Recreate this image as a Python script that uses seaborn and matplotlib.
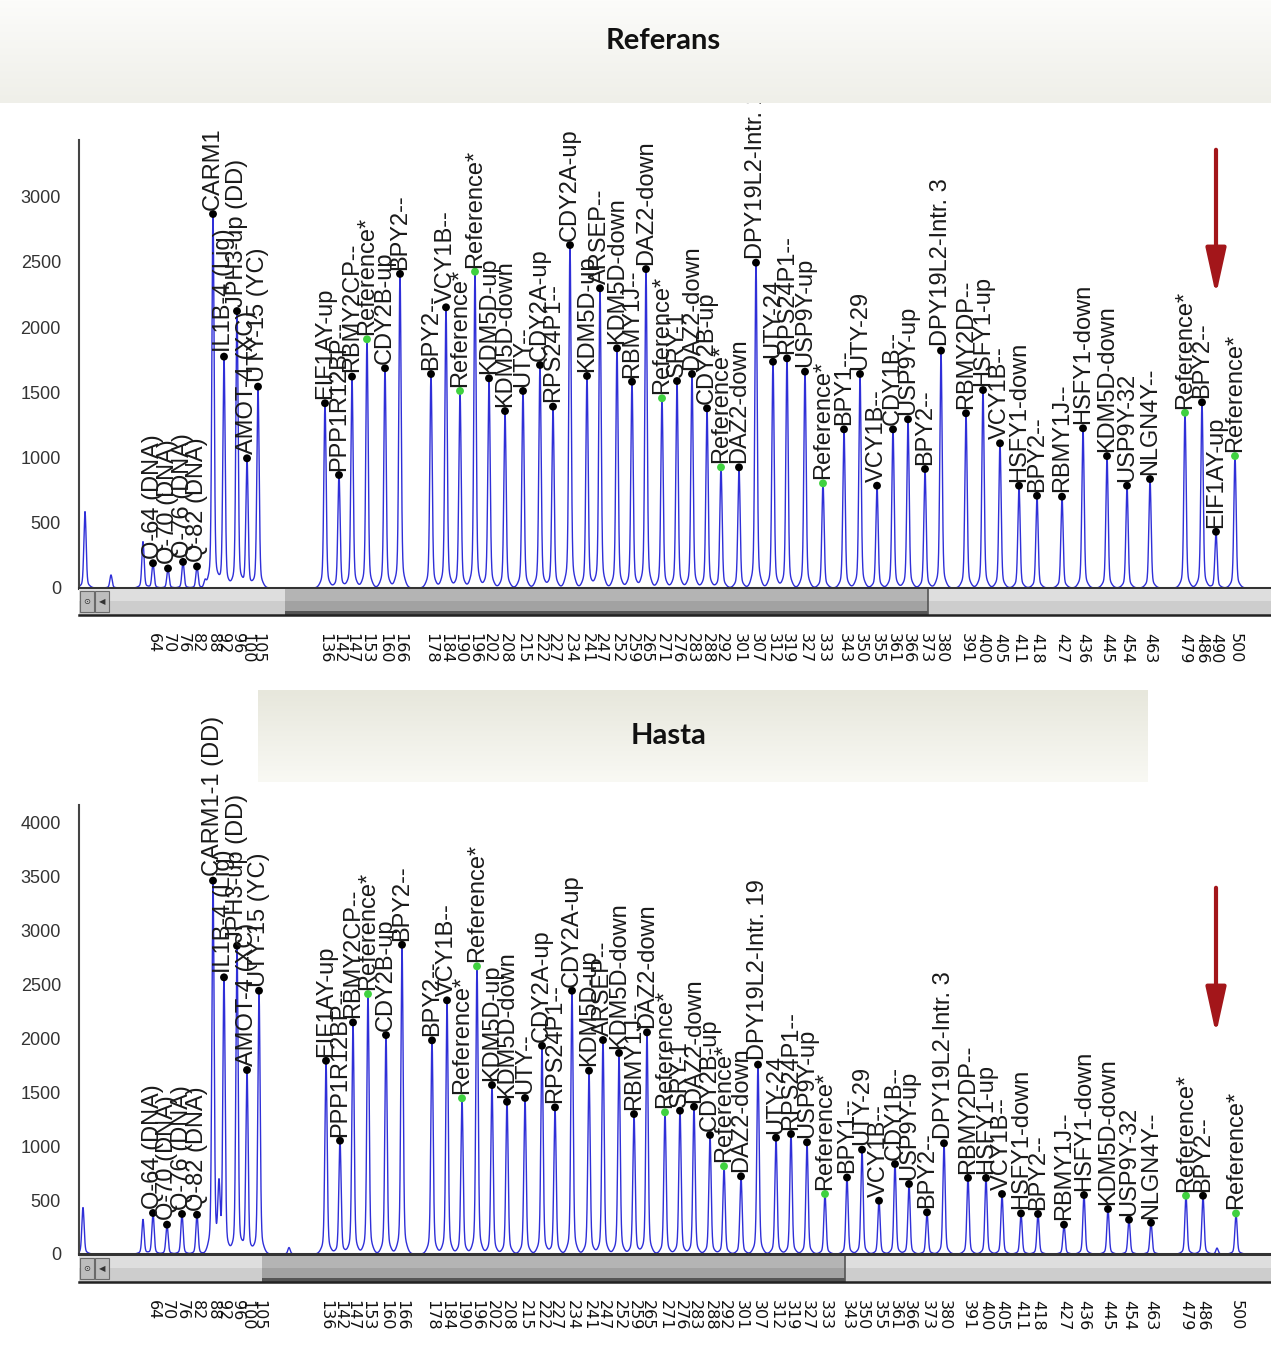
import numpy as np
import pandas as pd
import matplotlib
matplotlib.use("Agg")
import matplotlib.pyplot as plt
from matplotlib.patches import Rectangle, FancyArrowPatch
from matplotlib.colors import LinearSegmentedColormap
import seaborn as sns

W, H = 1271, 1349

# ---------------- data ----------------
# peak positions are in scan units (same scale for both panels)
labels_top = ["Q-64 (DNA)", "Q-70 (DNA)", "Q-76 (DNA)", "Q-82 (DNA)", "CARM1",
              "IL1B-4 (Lig)", "JPH3-up (DD)", "AMOT-4 (XC)", "UTY-15 (YC)",
              "EIF1AY-up", "PPP1R12BP--", "RBMY2CP--", "Reference*", "CDY2B-up", "BPY2--",
              "BPY2--", "VCY1B--", "Reference*", "Reference*", "KDM5D-up", "KDM5D-down",
              "UTY--", "CDY2A-up", "RPS24P1--", "CDY2A-up", "KDM5D-up", "ARSEP--",
              "KDM5D-down", "RBMY1J--", "DAZ2-down", "Reference*", "SRY-1", "DAZ2-down",
              "CDY2B-up", "Reference*", "DAZ2-down", "DPY19L2-Intr. 19", "UTY-24",
              "RPS24P1--", "USP9Y-up", "Reference*",
              "BPY1--", "UTY-29", "VCY1B--", "CDY1B--", "USP9Y-up", "BPY2--", "DPY19L2-Intr. 3",
              "RBMY2DP--", "HSFY1-up", "VCY1B--", "HSFY1-down", "BPY2--",
              "RBMY1J--", "HSFY1-down", "KDM5D-down", "USP9Y-32", "NLGN4Y--",
              "Reference*", "BPY2--", "EIF1AY-up", "Reference*"]
pos_top = [153, 168, 183, 197, 213, 224, 237, 247, 258,
           325, 339, 352, 367, 385, 400,
           431, 446, 460, 475, 489, 505, 523, 540, 553, 570,
           587, 600, 617, 632, 646, 662, 677, 692, 707, 721,
           739, 756, 773, 787, 805, 823,
           844, 860, 877, 893, 908, 925, 941,
           966, 983, 1000, 1019, 1037,
           1062, 1083, 1107, 1127, 1150,
           1185, 1202, 1216, 1235]
height_top = [190, 150, 200, 165, 2866, 1773, 2122, 994, 1543,
              1416, 866, 1620, 1906, 1684, 2407,
              1640, 2151, 1510, 2424, 1607, 1356, 1510, 1709, 1390, 2628,
              1625, 2297, 1837, 1581, 2444, 1454, 1586, 1640, 1377, 925,
              925, 2493, 1734, 1760, 1658, 802,
              1216, 1640, 784, 1216, 1293, 912, 1819,
              1339, 1517, 1109, 784, 707,
              700, 1224, 1011, 784, 835,
              1343, 1423, 431, 1011]
sizes_top = [64, 70, 76, 82, 88, 92, 96, 100, 105,
             136, 142, 147, 153, 160, 166,
             178, 184, 190, 196, 202, 208, 215, 222, 227, 234,
             241, 247, 252, 259, 265, 271, 276, 283, 288, 292,
             301, 307, 312, 319, 327, 333,
             343, 350, 355, 361, 366, 373, 380,
             391, 400, 405, 411, 418,
             427, 436, 445, 454, 463,
             479, 486, 490, 500]
minor_pos_top = [85, 111, 143, 205]
minor_h_top = [585, 100, 355, 50]

labels_bot = ["Q-64 (DNA)", "Q-70 (DNA)", "Q-76 (DNA)", "Q-82 (DNA)", "CARM1-1 (DD)",
              "IL1B-4 (Lig)", "JPH3-up (DD)", "AMOT-4 (XC)", "UTY-15 (YC)",
              "EIF1AY-up", "PPP1R12BP--", "RBMY2CP--", "Reference*", "CDY2B-up", "BPY2--",
              "BPY2--", "VCY1B--", "Reference*", "Reference*", "KDM5D-up", "KDM5D-down",
              "UTY--", "CDY2A-up", "RPS24P1--", "CDY2A-up", "KDM5D-up", "ARSEP--",
              "KDM5D-down", "RBMY1J--", "DAZ2-down", "Reference*", "SRY-1", "DAZ2-down",
              "CDY2B-up", "Reference*", "DAZ2-down", "DPY19L2-Intr. 19", "UTY-24",
              "RPS24P1--", "USP9Y-up", "Reference*",
              "BPY1--", "UTY-29", "VCY1B--", "CDY1B--", "USP9Y-up", "BPY2--", "DPY19L2-Intr. 3",
              "RBMY2DP--", "HSFY1-up", "VCY1B--", "HSFY1-down", "BPY2--",
              "RBMY1J--", "HSFY1-down", "KDM5D-down", "USP9Y-32", "NLGN4Y--",
              "Reference*", "BPY2--", "Reference*"]
pos_bot = [153, 167, 182, 197, 213, 224, 237, 247, 259,
           326, 340, 353, 368, 386, 402,
           432, 447, 462, 477, 492, 507, 525, 542, 555, 572,
           589, 603, 619, 634, 647, 665, 680, 694, 710, 724,
           741, 758, 776, 791, 807, 825,
           847, 862, 879, 895, 909, 927, 944,
           968, 986, 1002, 1021, 1038,
           1064, 1084, 1108, 1129, 1151,
           1186, 1203, 1236]
height_bot = [380, 272, 371, 364, 3460, 2564, 2857, 1705, 2440,
              1791, 1050, 2146, 2409, 2029, 2866,
              1980, 2351, 1443, 2666, 1566, 1411, 1446, 1930, 1359, 2440,
              1699, 1983, 1863, 1297, 2054, 1313, 1328, 1365, 1103, 813,
              720, 1755, 1078, 1112, 1035, 556,
              709, 967, 494, 834, 649, 386, 1026,
              705, 705, 556, 376, 371,
              272, 547, 417, 318, 290,
              540, 540, 376]
sizes_bot = [64, 70, 76, 82, 88, 92, 96, 100, 105,
             136, 142, 147, 153, 160, 166,
             178, 184, 190, 196, 202, 208, 215, 222, 227, 234,
             241, 247, 252, 259, 265, 271, 276, 283, 288, 292,
             301, 307, 312, 319, 327, 333,
             343, 350, 355, 361, 366, 373, 380,
             391, 400, 405, 411, 418,
             427, 436, 445, 454, 463,
             479, 486, 500]
minor_pos_bot = [83, 143, 219, 289, 1217]
minor_h_bot = [430, 320, 560, 60, 55]

BLUE = "#2f2fd8"
GREEN = "#3fd13f"
RED = "#a3161a"

sns.set_style("white")
plt.rcParams["font.family"] = ["Liberation Sans", "DejaVu Sans"]


def fig_box(x0, y0, x1, y1):
    # pixel box (top-left origin) -> figure fraction
    return [x0 / W, 1 - y1 / H, (x1 - x0) / W, (y1 - y0) / H]


def trace(pos, h, xs):
    y = np.zeros_like(xs)
    for p, v in zip(pos, h):
        d = xs - p
        y += v * (0.92 * np.exp(-0.5 * (d / 1.1) ** 2) + 0.08 * np.exp(-0.5 * (d / 3.5) ** 2))
    return y


def draw_panel(ax, sb, labels, pos, heights, sizes, mpos, mh, ymax, yticks, thumb):
    xs = np.arange(79, 1271, 0.2)
    ys = trace(pos + mpos, heights + mh, xs)
    sns.lineplot(x=xs, y=ys, ax=ax, color=BLUE, lw=1.0, estimator=None)

    df = pd.DataFrame({"pos": pos, "h": heights,
                       "ref": [l.startswith("Reference") for l in labels]})
    sns.scatterplot(data=df, x="pos", y="h", hue="ref",
                    palette={False: "black", True: GREEN}, s=32,
                    edgecolor="none", legend=False, ax=ax, zorder=3)
    for l, p, v in zip(labels, pos, heights):
        ax.annotate(l, (p, v), xytext=(0, 3), textcoords="offset points",
                    rotation=90, ha="center", va="bottom", fontsize=17,
                    color="#1a1a1a")

    ax.set_xlim(79, 1271)
    ax.set_ylim(0, ymax)
    ax.set_xticks([])
    ax.set_yticks(yticks)
    ax.set_xlabel("")
    ax.set_ylabel("")
    ax.tick_params(axis="y", direction="out", length=10, width=1.2,
                   labelsize=13, colors="#333333", pad=3)
    sns.despine(ax=ax, top=True, right=True)
    ax.spines["left"].set_color("#444444")
    ax.spines["left"].set_linewidth(1.5)
    ax.spines["bottom"].set_color("#333333")
    ax.spines["bottom"].set_linewidth(2.2)

    # scroll bar under the trace, carrying the size ticks
    sb.set_xlim(79, 1271)
    sb.set_ylim(0, 1)
    sb.add_patch(Rectangle((79, 0), 1192, 1, color="#cdcdcd", lw=0))
    sb.add_patch(Rectangle((79, 0.55), 1192, 0.45, color="#dedede", lw=0))
    sb.add_patch(Rectangle((thumb[0], 0), thumb[1] - thumb[0], 1, color="#a2a2a2", lw=0))
    sb.add_patch(Rectangle((thumb[0], 0.55), thumb[1] - thumb[0], 0.45, color="#b4b4b4", lw=0))
    sb.add_patch(Rectangle((thumb[0], 0), thumb[1] - thumb[0], 0.15, color="#555555", lw=0))
    sb.plot([thumb[1], thumb[1]], [0, 1], color="#555555", lw=1.2)
    for x0, sym in [(80, "\u2299"), (95, "\u25c0")]:
        sb.add_patch(Rectangle((x0, 0.12), 14, 0.8, facecolor="#bdbdbd",
                               edgecolor="#6a6a6a", lw=0.8))
        sb.text(x0 + 7, 0.52, sym, ha="center", va="center", fontsize=6,
                color="#333333", family=["DejaVu Sans"])
    sb.set_yticks([])
    sb.set_xticks(pos)
    sb.set_xticklabels([str(s) for s in sizes], family=["DejaVu Sans"])
    sb.tick_params(axis="x", direction="out", length=11, width=1.0, pad=2,
                   labelsize=11.5, labelrotation=270, colors="#111111")
    for side in ["top", "left", "right"]:
        sb.spines[side].set_visible(False)
    sb.spines["bottom"].set_color("#222222")
    sb.spines["bottom"].set_linewidth(1.8)


fig = plt.figure(figsize=(W / 100, H / 100), dpi=100)

ax_top = fig.add_axes(fig_box(79, 140, 1271, 588))
sb_top = fig.add_axes(fig_box(79, 589, 1271, 615))
draw_panel(ax_top, sb_top, labels_top, pos_top, height_top, sizes_top,
           minor_pos_top, minor_h_top, 3433, range(0, 3001, 500), (285, 928))

ax_bot = fig.add_axes(fig_box(79, 805, 1271, 1254))
sb_bot = fig.add_axes(fig_box(79, 1256, 1271, 1282))
draw_panel(ax_bot, sb_bot, labels_bot, pos_bot, height_bot, sizes_bot,
           minor_pos_bot, minor_h_bot, 4161, range(0, 4001, 500), (262, 845))

# title bands drawn over the traces
band_cmap = LinearSegmentedColormap.from_list("band", ["#fcfcfa", "#efefe9"])
top_band = fig.add_axes(fig_box(0, 0, 1271, 103), zorder=10)
top_band.imshow(np.linspace(0, 1, 100).reshape(-1, 1), aspect="auto", cmap=band_cmap,
                extent=[0, 1, 0, 1])
top_band.axis("off")
top_band.text(0.522, 0.6, "Referans", ha="center", va="center", fontsize=21,
              fontweight="bold", family=["Lato", "DejaVu Sans"], color="#111111")

hasta_cmap = LinearSegmentedColormap.from_list("band2", ["#e7e7dc", "#f9f9f4"])
mid_band = fig.add_axes(fig_box(258, 690, 1148, 782), zorder=10)
mid_band.imshow(np.linspace(0, 1, 100).reshape(-1, 1), aspect="auto", cmap=hasta_cmap,
                extent=[0, 1, 0, 1])
mid_band.axis("off")
mid_band.text(0.461, 0.5, "Hasta", ha="center", va="center", fontsize=21,
              fontweight="bold", family=["Lato", "DejaVu Sans"], color="#111111")

# red arrows marking the missing peak
for y0, y1 in [(147, 298), (885, 1037)]:
    arr = FancyArrowPatch((1216 / W, 1 - y0 / H), (1216 / W, 1 - y1 / H),
                          transform=fig.transFigure,
                          arrowstyle="-|>,head_length=1.0,head_width=0.22",
                          mutation_scale=28, lw=3.0, color=RED, zorder=20)
    fig.add_artist(arr)

fig.savefig("out.png", dpi=100, facecolor="white")
